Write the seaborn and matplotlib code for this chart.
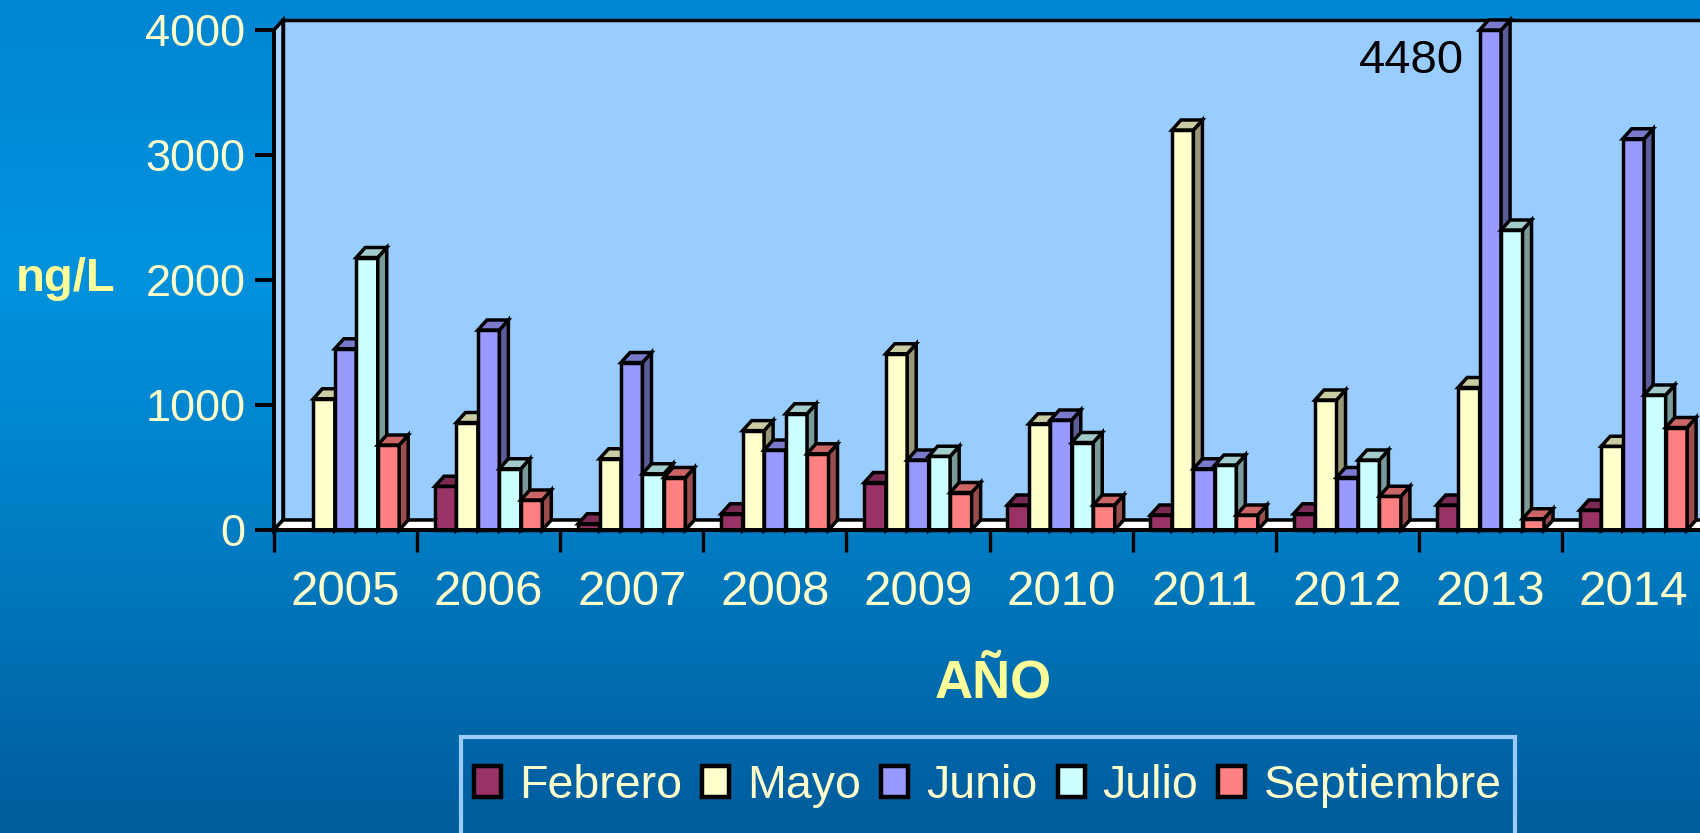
import numpy as np
import pandas as pd
import matplotlib
matplotlib.use("Agg")
import matplotlib.pyplot as plt
import seaborn as sns
from matplotlib.patches import Polygon, Patch, Rectangle
from matplotlib.colors import to_rgb, LinearSegmentedColormap

# datos (ng/L por mes y año)
years = ['2005', '2006', '2007', '2008', '2009', '2010', '2011', '2012', '2013', '2014']
meses = ['Febrero', 'Mayo', 'Junio', 'Julio', 'Septiembre']
febrero = [np.nan, 350, 50, 130, 380, 200, 120, 130, 200, 160]
mayo = [1050, 860, 570, 795, 1410, 850, 3200, 1040, 1140, 670]
junio = [1450, 1600, 1340, 640, 560, 880, 490, 420, 4480, 3130]
julio = [2180, 490, 450, 930, 590, 700, 520, 560, 2400, 1080]
septiembre = [680, 240, 420, 610, 300, 200, 120, 270, 90, 820]
colores = ['#993366', '#FFFFCC', '#9999FF', '#CCFFFF', '#FF8080']

wide = pd.DataFrame({'Año': years, 'Febrero': febrero, 'Mayo': mayo,
                     'Junio': junio, 'Julio': julio, 'Septiembre': septiembre})
df = wide.melt(id_vars='Año', var_name='Mes', value_name='ng/L')

sns.set_style('white')
plt.rcParams['font.family'] = ['Liberation Sans', 'DejaVu Sans']
amarillo = '#FFFFCC'

fig = plt.figure(figsize=(17, 8.33), dpi=100)

# fondo degradado azul
bg = fig.add_axes([0, 0, 1, 1], zorder=-10)
cmap = LinearSegmentedColormap.from_list('fondo', [(0, '#0086D2'), (0.33, '#0092DE'),
                                                  (0.6, '#0080C8'), (1, '#005C9C')])
bg.imshow(np.linspace(0, 1, 256).reshape(-1, 1), aspect='auto', cmap=cmap,
          extent=[0, 1, 0, 1])
bg.axis('off')

ax = fig.add_axes([274 / 1700, 303 / 833, 1431 / 1700, 500 / 833])
ax.patch.set_visible(False)

sns.barplot(data=df, x='Año', y='ng/L', hue='Mes', hue_order=meses, palette=colores,
            saturation=1, width=0.75, edgecolor='black', linewidth=2.5, errorbar=None,
            legend=False, ax=ax, zorder=3)

ymax = 4000
ax.set_xlim(-0.5, len(years) - 0.5)
ax.set_ylim(0, ymax)
x0, x1 = ax.get_xlim()

# profundidad del efecto 3D (en unidades de datos)
DX = 9 / 143.1
DY = 10 / 0.125

pared = Polygon([(x0 + DX, DY), (x1 + DX, DY), (x1 + DX, ymax + DY), (x0 + DX, ymax + DY)],
                fc='#99CCFF', ec='black', lw=2.5, zorder=0.5, clip_on=False)
lado = Polygon([(x0, 0), (x0 + DX, DY), (x0 + DX, ymax + DY), (x0, ymax)],
               fc='#A8D4FF', ec='black', lw=2.5, zorder=0.6, clip_on=False)
piso = Polygon([(x0, 0), (x1, 0), (x1 + DX, DY), (x0 + DX, DY)],
               fc='white', ec='black', lw=2.5, zorder=0.7, clip_on=False)
for p in (pared, lado, piso):
    ax.add_patch(p)

bars = [p for p in ax.patches
        if hasattr(p, 'get_height') and np.isfinite(p.get_height()) and p.get_height() > 0]
bars.sort(key=lambda p: p.get_x())
for i, p in enumerate(bars):
    z = 3 + i * 0.01
    orig = p.get_height()
    h = min(orig, ymax)
    p.set_height(h)
    p.set_zorder(z)
    p.set_clip_on(False)
    x, w = p.get_x(), p.get_width()
    c = np.array(to_rgb(p.get_facecolor()))
    top = Polygon([(x, h), (x + w, h), (x + w + DX, h + DY), (x + DX, h + DY)],
                  fc=c * 0.8, ec='black', lw=2.5, zorder=z, clip_on=False, joinstyle='miter')
    side = Polygon([(x + w, 0), (x + w + DX, DY), (x + w + DX, h + DY), (x + w, h)],
                   fc=c * 0.6, ec='black', lw=2.5, zorder=z, clip_on=False, joinstyle='miter')
    ax.add_patch(side)
    ax.add_patch(top)
    if orig > ymax:
        ax.annotate(f'{orig:.0f}', xy=(x, ymax), xytext=(-11, -22),
                    textcoords='offset points', ha='right', va='center',
                    fontsize=34, color='black')

# ejes
sns.despine(ax=ax, top=True, right=True)
for s in ('left', 'bottom'):
    ax.spines[s].set_linewidth(2.8)
    ax.spines[s].set_color('black')
    ax.spines[s].set_zorder(10)

ax.set_yticks([0, 1000, 2000, 3000, 4000])
ax.tick_params(axis='y', length=14, width=2.8, color='black', pad=6.5,
               labelsize=32.5, labelcolor=amarillo, left=True)
ax.set_xticks(np.arange(x0, x1 + 0.01, 1), minor=True)
ax.tick_params(axis='x', which='major', length=0, pad=29, labelsize=35.5, labelcolor=amarillo)
ax.tick_params(axis='x', which='minor', length=16, width=2.4, color='black', bottom=True)
ax.set_xlabel('')
ax.set_ylabel('')

fig.text(66 / 1700, 1 - 279 / 833, 'ng/L', ha='center', va='center',
         fontsize=34, fontweight='bold', color='#FFFF99')
fig.text(993 / 1700, 1 - 684 / 833, 'AÑO', ha='center', va='center',
         fontsize=38, fontweight='bold', color='#FFFF99')

# leyenda con marco que sigue por debajo del borde
handles = [Patch(facecolor=c, edgecolor='black', linewidth=3.2) for c in colores]
leg = fig.legend(handles, meses, loc='center left', bbox_to_anchor=(474 / 1700, 1 - 786 / 833),
                 ncol=5, frameon=False, fontsize=33.5,
                 handlelength=0.58, handleheight=0.65, handletextpad=0.39,
                 columnspacing=0.43, borderpad=0, borderaxespad=0, labelcolor=amarillo)
marco = Rectangle((461 / 1700, -0.1), (1515 - 461) / 1700, 0.1 + 96 / 833,
                  transform=fig.transFigure, fill=False, ec='#99CCFF', lw=3)
fig.add_artist(marco)

fig.savefig('out.png', dpi=100)
